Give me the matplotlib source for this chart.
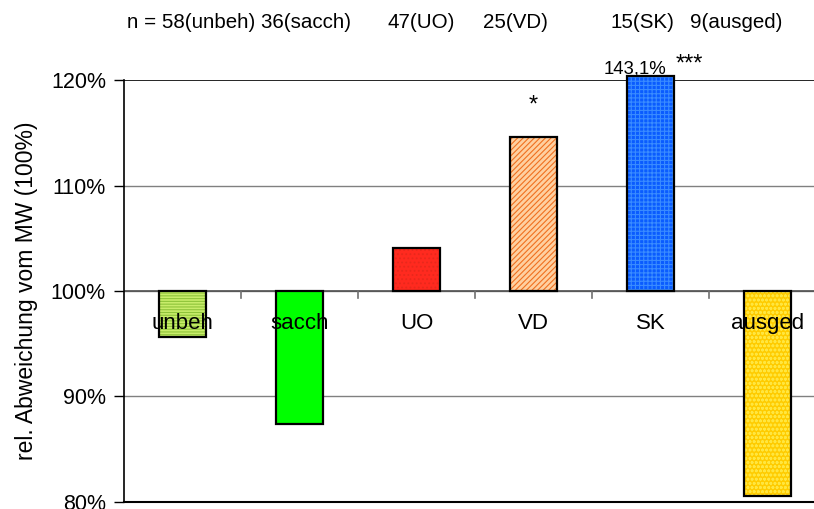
import matplotlib
matplotlib.use("Agg")
import matplotlib.pyplot as plt
import numpy as np

plt.rcParams['font.family'] = ['Liberation Sans', 'DejaVu Sans']
plt.rcParams['hatch.linewidth'] = 0.8

categories = ["unbeh", "sacch", "UO", "VD", "SK", "ausged"]
values = [95.6, 87.4, 104.1, 114.6, 143.1, 80.6]
n_parts = ["n = 58(unbeh) 36(sacch)", "47(UO)", "25(VD)", "15(SK)", "9(ausged)"]
yticks = [80, 90, 100, 110, 120]
ytick_labels = ["80%", "90%", "100%", "110%", "120%"]
sig = ["", "", "", "*", "***", ""]
face_colors = ["#c8ec6a", "#00ff00", "#ff2a1f", "#ffd0a0", "#0a5cff", "#ffcc00"]
hatch_colors = ["#8fc43a", "#00ff00", "#e8281c", "#f07020", "#3a8cff", "#ffe640"]
hatches = ["------", None, "....", "//////", "++++", "oooo"]

W, H = 814, 509
fig = plt.figure(figsize=(W / 100, H / 100), dpi=100)
left = 124 / W
right = 826 / W
bottom = 1 - 502 / H
top = 1 - 80 / H
ax = fig.add_axes([left, bottom, right - left, top - bottom])
ax.set_xlim(-0.5, 5.5)
ax.set_ylim(80, 120)

x = np.arange(len(categories))
bw = 0.41
ymax_draw = 120.4
for i, (c, v) in enumerate(zip(categories, values)):
    vv = min(v, ymax_draw)
    h = vv - 100
    ax.bar(x[i], h, bottom=100, width=bw, color=face_colors[i],
           edgecolor=hatch_colors[i], hatch=hatches[i], linewidth=0,
           zorder=3, clip_on=False)
    ax.bar(x[i], h, bottom=100, width=bw, facecolor="none",
           edgecolor="black", linewidth=1.6, zorder=4, clip_on=False)

for y in [90, 100, 110]:
    ax.axhline(y, color="#808080", lw=1.0, zorder=1)
ax.axhline(100, color="#505050", lw=1.2, zorder=2)
ax.axhline(120, color="black", lw=1.2, zorder=2)
for b in np.arange(0.5, 5.5, 1.0):
    ax.plot([b, b], [100, 99.3], color="#707070", lw=1.2, zorder=2)

for sp in ["top", "right"]:
    ax.spines[sp].set_visible(False)
ax.spines["left"].set_linewidth(1.2)
ax.spines["bottom"].set_linewidth(1.5)
ax.set_xticks([])
ax.set_yticks(yticks)
ax.set_yticklabels(ytick_labels, fontsize=15.5)
ax.tick_params(axis="y", length=7, width=1.0, pad=6)

for i, c in enumerate(categories):
    ax.text(x[i], 96.95, c, ha="center", va="center", fontsize=16, zorder=5)

ax.set_ylabel("rel. Abweichung vom MW (100%)", fontsize=16.5, labelpad=9)

ax.text(x[4] - 0.135, 121.05, "143,1%", ha="center", va="center", fontsize=13.4, clip_on=False)
ax.text(x[4] + 0.33, 121.45, sig[4], ha="center", va="center", fontsize=17, clip_on=False)
ax.text(x[3], 117.6, sig[3], ha="center", va="center", fontsize=17)

n_x = [127, 387, 483, 610, 690]
for xp, s in zip(n_x, n_parts):
    fig.text(xp / W, 1 - 23 / H, s, ha="left", va="center", fontsize=14.8)

fig.savefig("out.png", dpi=100)
